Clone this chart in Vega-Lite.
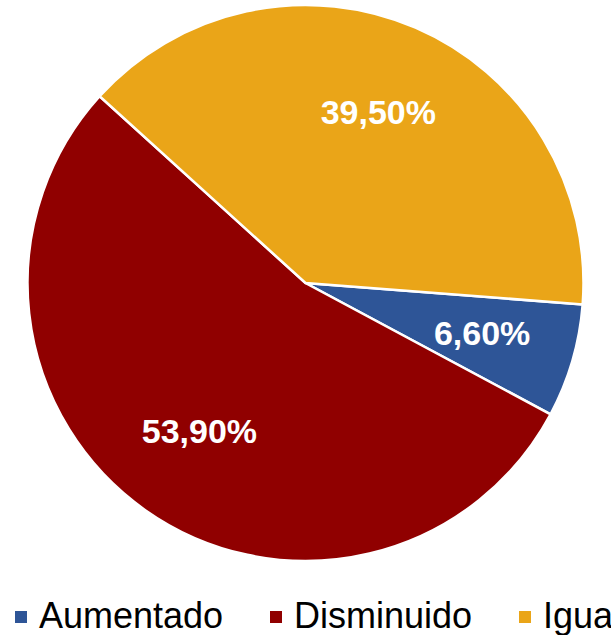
{
  "$schema": "https://vega.github.io/schema/vega-lite/v6.json",
  "width": 611,
  "height": 562,
  "padding": 0,
  "autosize": {"type": "pad"},
  "background": "white",
  "config": {"view": {"stroke": null}},
  "data": {
    "values": [
      {"respuesta": "Aumentado", "orden": 1, "pct": 6.6, "label": "6,60%"},
      {"respuesta": "Disminuido", "orden": 2, "pct": 53.9, "label": "53,90%"},
      {"respuesta": "Igual", "orden": 3, "pct": 39.5, "label": "39,50%"}
    ]
  },
  "encoding": {
    "theta": {"field": "pct", "type": "quantitative", "stack": true, "scale": {"range": [1.648, 7.931]}},
    "order": {"field": "orden", "type": "quantitative"}
  },
  "layer": [
    {
      "mark": {"type": "arc", "outerRadius": 278, "stroke": "white", "strokeWidth": 2.5},
      "encoding": {
        "color": {
          "field": "respuesta",
          "type": "nominal",
          "scale": {"domain": ["Aumentado", "Disminuido", "Igual"], "range": ["#2E5597", "#900000", "#EAA518"]},
          "legend": {
            "orient": "none",
            "legendX": 3,
            "legendY": 597,
            "direction": "horizontal",
            "title": null,
            "symbolType": "square",
            "symbolSize": 144,
            "symbolStrokeWidth": 0,
            "labelFontSize": 36,
            "labelFont": "Liberation Sans",
            "labelColor": "black",
            "labelOffset": 0,
            "labelLimit": 300,
            "columnPadding": 34,
            "padding": 0
          }
        }
      }
    },
    {
      "mark": {"type": "text", "radius": 184, "fontSize": 34, "fontWeight": "bold", "font": "Liberation Sans", "color": "white"},
      "encoding": {
        "text": {"field": "label", "type": "nominal"},
        "detail": {"field": "respuesta", "type": "nominal"}
      }
    }
  ]
}
